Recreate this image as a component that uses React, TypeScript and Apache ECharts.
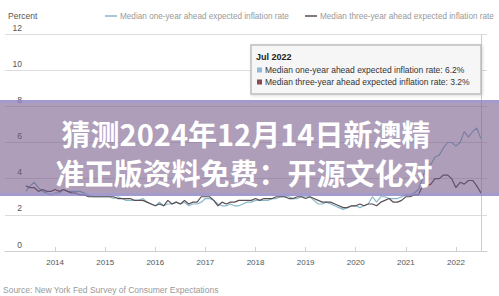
import React, { useEffect, useRef } from "react";
import * as echarts from "echarts";

const startYear = 2013;
const startMonth = 6; // June 2013
const seriesNames = [
  "Median one-year ahead expected inflation rate",
  "Median three-year ahead expected inflation rate",
];
const yTicks = [0, 2, 4, 6, 8, 10, 12];
const tipTitle = "Jul 2022";
const crossAt = 2022.5;

// Jun 2013 .. Jul 2022, monthly
const oneYear = [
  3.3, 3.6, 3.8, 3.5, 3.3, 3.2, 3.1,
  3.2, 3.2, 3.4, 3.3, 3.3, 3.3, 3.3, 3.2, 3.1, 3.0, 3.0, 3.0,
  3.0, 3.0, 2.9, 3.0, 2.9, 2.8, 2.8, 2.8, 2.8, 2.9, 2.7, 2.6,
  2.5, 2.7, 2.5, 2.6, 2.6, 2.7, 2.6, 2.7, 2.5, 2.6, 2.6, 2.7,
  2.9, 2.9, 2.8, 2.6, 2.5, 2.5, 2.6, 2.5, 2.5, 2.6, 2.7, 2.7,
  2.8, 2.8, 2.8, 2.8, 2.9, 2.9, 3.0, 3.0, 3.0, 2.9, 2.9, 3.0,
  3.0, 3.0, 2.8, 2.6, 2.6, 2.7, 2.6, 2.5, 2.4, 2.3, 2.4, 2.5,
  2.5, 2.4, 2.5, 2.6, 3.0, 2.7, 3.0, 3.0, 2.9, 2.9, 2.9, 3.0,
  3.1, 3.1, 3.2, 3.4, 4.0, 4.8, 4.8, 5.2, 5.3, 5.7, 6.0, 6.0,
  5.8, 6.0, 6.6, 6.3, 6.6, 6.8, 6.2,
];
const threeYear = [
  3.6, 3.5, 3.5, 3.3, 3.4, 3.3, 3.3,
  3.4, 3.3, 3.4, 3.3, 3.2, 3.2, 3.1, 3.1, 3.0, 3.0, 3.0, 3.0,
  3.0, 3.0, 3.0, 2.9, 2.9, 2.9, 2.9, 2.8, 2.8, 2.8, 2.7, 2.6,
  2.5, 2.6, 2.5, 2.8, 2.6, 2.7, 2.6, 2.8, 2.6, 2.7, 2.7, 3.0,
  3.0, 3.0, 2.8, 2.5, 2.7, 2.6, 2.7, 2.7, 2.8, 2.8, 2.8, 2.8,
  2.9, 2.8, 2.9, 2.9, 2.9, 3.0, 3.0, 3.0, 2.9, 2.9, 3.0, 3.0,
  2.9, 3.0, 2.9, 2.8, 2.7, 2.7, 2.7, 2.6, 2.5, 2.4, 2.4, 2.5,
  2.5, 2.6, 2.5, 2.6, 2.6, 2.5, 2.7, 2.8, 2.9, 2.7, 2.7, 2.8,
  3.0, 3.0, 3.1, 3.1, 3.6, 3.6, 3.7, 4.0, 4.0, 4.2, 4.2, 4.0,
  3.5, 3.8, 3.7, 3.9, 3.9, 3.6, 3.2,
];

const colors = ["#86b8cb", "#5a4e52"];
const tipColors = ["#8cbad8", "#8e4a52"];

const toPairs = (vals: number[]) =>
  vals.map((v, i) => [startYear + (startMonth - 1 + i) / 12, v]);

export default function App() {
  const ref = useRef<HTMLDivElement>(null);
  useEffect(() => {
    if (!ref.current) return;
    const chart = echarts.init(ref.current, undefined, { renderer: "svg" });
    const font = "Liberation Sans, Arial, sans-serif";
    const cjk = "Noto Sans CJK SC";
    const tx = 251;
    const ty = 45;
    const legendBase = {
      top: 7,
      itemWidth: 12,
      itemHeight: 1.5,
      icon: "rect",
      textStyle: { fontSize: 8.2, color: "#999", fontFamily: font, padding: [0, 0, 0, -2] },
    };
    chart.setOption({
      animation: false,
      textStyle: { fontFamily: font },
      title: {
        text: "Percent",
        left: 3,
        top: 6,
        textStyle: { fontSize: 8.5, color: "#555", fontWeight: "normal", fontFamily: font },
      },
      legend: [
        { ...legendBase, left: 100, data: [seriesNames[0]] },
        { ...legendBase, left: 300, data: [seriesNames[1]] },
      ],
      grid: { left: 5, right: 12, top: 34, bottom: 45 },
      xAxis: {
        type: "value",
        min: 2013,
        max: 2022.62,
        interval: 1,
        splitLine: { show: false },
        axisLine: { lineStyle: { color: "#cfcfcf" } },
        axisTick: { inside: true, length: 4, lineStyle: { color: "#cfcfcf" } },
        axisLabel: {
          showMinLabel: false,
          showMaxLabel: false,
          fontSize: 8,
          color: "#555",
          margin: 7,
          formatter: (v: number) => String(Math.round(v)),
        },
      },
      yAxis: {
        type: "value",
        min: yTicks[0],
        max: yTicks[yTicks.length - 1],
        interval: 2,
        axisLine: { show: false },
        axisTick: { show: false },
        splitLine: { lineStyle: { color: "#dcdcdc" } },
        axisLabel: {
          inside: true,
          margin: 17,
          align: "right",
          verticalAlign: "bottom",
          padding: [0, 0, 2, 0],
          fontSize: 8.5,
          color: "#555",
        },
      },
      series: [
        {
          name: seriesNames[0],
          type: "line",
          data: toPairs(oneYear),
          showSymbol: false,
          color: colors[0],
          lineStyle: { width: 1.2, color: colors[0] },
          z: 2,
          markLine: {
            silent: true,
            symbol: "none",
            label: { show: false },
            lineStyle: { color: "#cccccc", width: 1, type: "solid" },
            data: [{ xAxis: crossAt }],
          },
        },
        {
          name: seriesNames[1],
          type: "line",
          data: toPairs(threeYear),
          showSymbol: false,
          color: colors[1],
          lineStyle: { width: 1.2, color: colors[1] },
          z: 3,
        },
      ],
      graphic: [
        {
          type: "rect",
          z: 50,
          shape: { x: tx, y: ty, width: 230, height: 49 },
          style: {
            fill: "#f6f6f6",
            stroke: "#bdbdbd",
            lineWidth: 1.5,
            shadowBlur: 3,
            shadowColor: "rgba(0,0,0,0.15)",
            shadowOffsetX: 1,
            shadowOffsetY: 1,
          },
        },
        {
          type: "text",
          z: 51,
          x: tx + 5,
          y: ty + 12,
          style: {
            text: tipTitle,
            font: `bold 9px ${font}`,
            fill: "#222",
            verticalAlign: "middle",
          },
        },
        {
          type: "rect",
          z: 51,
          shape: { x: tx + 6, y: ty + 22.5, width: 5, height: 5 },
          style: { fill: tipColors[0] },
        },
        {
          type: "text",
          z: 51,
          x: tx + 14,
          y: ty + 25,
          style: {
            text: `${seriesNames[0]}: ${oneYear[oneYear.length - 1]}%`,
            font: `8.5px ${font}`,
            fill: "#333",
            verticalAlign: "middle",
          },
        },
        {
          type: "rect",
          z: 51,
          shape: { x: tx + 6, y: ty + 34.5, width: 5, height: 5 },
          style: { fill: tipColors[1] },
        },
        {
          type: "text",
          z: 51,
          x: tx + 14,
          y: ty + 37,
          style: {
            text: `${seriesNames[1]}: ${threeYear[threeYear.length - 1]}%`,
            font: `8.5px ${font}`,
            fill: "#333",
            verticalAlign: "middle",
          },
        },
        {
          type: "rect",
          z: 100,
          shape: { x: 0, y: 100, width: 499, height: 96 },
          style: { fill: "rgba(110,82,130,0.56)" },
        },
        {
          type: "rect",
          z: 101,
          shape: { x: 0, y: 100, width: 499, height: 3 },
          style: { fill: "rgba(150,150,230,0.45)" },
        },
        {
          type: "rect",
          z: 101,
          shape: { x: 0, y: 193, width: 499, height: 3 },
          style: { fill: "rgba(150,150,230,0.45)" },
        },
        {
          type: "text",
          z: 102,
          x: 246,
          y: 133,
          style: {
            text: "猜测2024年12月14日新澳精",
            font: `bold 29px "${cjk}"`,
            fill: "#ffffff",
            align: "center",
            verticalAlign: "middle",
          },
        },
        {
          type: "text",
          z: 102,
          x: 244,
          y: 172,
          style: {
            text: "准正版资料免费：开源文化对",
            font: `bold 29px "${cjk}"`,
            fill: "#ffffff",
            align: "center",
            verticalAlign: "middle",
          },
        },
        {
          type: "text",
          x: 3,
          y: 290,
          style: {
            text: "Source: New York Fed Survey of Consumer Expectations",
            font: `8.5px ${font}`,
            fill: "#999",
            verticalAlign: "middle",
          },
        },
      ],
    });
    return () => chart.dispose();
  }, []);
  return <div ref={ref} style={{ width: 499, height: 296, position: "absolute", left: 0, top: 0 }} />;
}
